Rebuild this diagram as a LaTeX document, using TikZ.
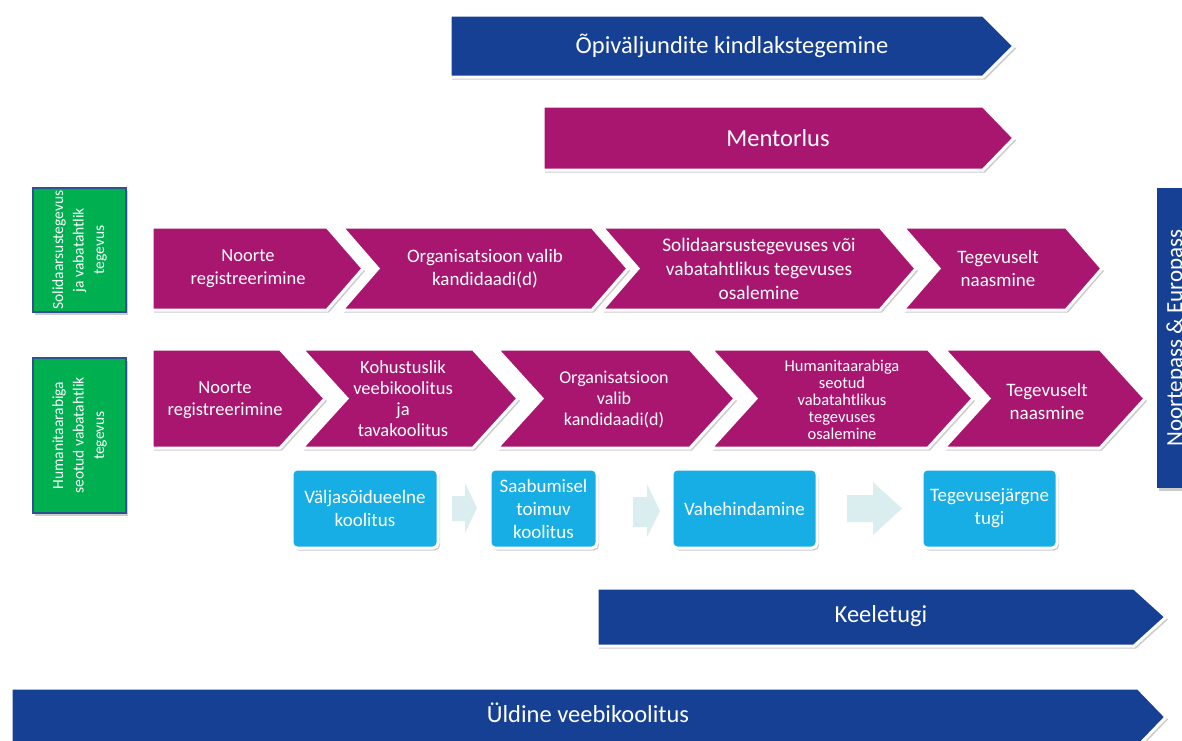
\documentclass[tikz,border=0pt]{standalone}
\usepackage{fontspec}
\setmainfont{Carlito}
\usetikzlibrary{shadows}

\definecolor{navy}{RGB}{22,64,148}
\definecolor{plum}{RGB}{168,22,112}
\definecolor{leaf}{RGB}{0,176,80}
\definecolor{sky}{RGB}{22,174,228}
\definecolor{mist}{RGB}{218,238,240}
\definecolor{rim}{RGB}{47,82,143}

\begin{document}
\begin{tikzpicture}[x=1pt,y=-1pt,
  band/.style={draw=white, line width=3pt, drop shadow={shadow xshift=2pt, shadow yshift=-2.5pt, fill=black, opacity=0.2}},
  navyband/.style={band, fill=navy},
  plumband/.style={band, fill=plum},
  lbl/.style={text=white, align=center, inner sep=0pt},
  big/.style={lbl, font=\fontsize{24.5}{29}\selectfont},
  mid/.style={lbl, font=\fontsize{18.5}{22.5}\selectfont},
  skybox/.style={band, fill=sky, rounded corners=5pt, minimum height=79pt, text=white, align=center, font=\fontsize{19}{23}\selectfont},
  leafbox/.style={fill=leaf, draw=rim, line width=1.2pt, rotate=90, minimum height=93pt, inner sep=0pt, text=white, align=center, font=\fontsize{15.5}{20.5}\selectfont, drop shadow={shadow xshift=2pt, shadow yshift=-2.5pt, fill=black, opacity=0.2}}]
\useasboundingbox (0,0) rectangle (1182,740);
\fill[white] (0,0) rectangle (1182,740);

% long bands on top
\draw[navyband] (450,15)--(983,15)--(1014,46)--(983,77)--(450,77)--cycle;
\node[big] (learn) at (732,46) {Õpiväljundite kindlakstegemine};
\draw[plumband] (543,106)--(983,106)--(1014,138)--(983,170)--(543,170)--cycle;
\node[big] (mentor) at (778,138) {Mentorlus};

% row labels
\node[leafbox, minimum width=124pt] (solid) at (79.5,250) {Solidaarsustegevus\\ja vabatahtlik\\tegevus};
\node[leafbox, minimum width=155pt] (human) at (79.5,435.5) {Humanitaarabiga\\seotud vabatahtlik\\tegevus};

% right bar
\node[fill=navy, rotate=90, minimum width=300pt, minimum height=38pt, text=white, font=\fontsize{23}{27}\selectfont, drop shadow={shadow xshift=2pt, shadow yshift=-2.5pt, fill=black, opacity=0.2}] (pass) at (1176,338) {Noortepass \& Europass};

% first row
\draw[plumband] (152,227)--(327,227)--(363,268.5)--(327,310)--(152,310)--cycle;
\node[mid] (a1) at (248,268.5) {Noorte\\registreerimine};
\draw[plumband] (342,227)--(592,227)--(628,268.5)--(592,310)--(342,310)--(378,268.5)--cycle;
\node[mid, font=\fontsize{19}{23}\selectfont] (a2) at (485,268.5) {Organisatsioon valib\\kandidaadi(d)};
\draw[plumband] (602,227)--(880,227)--(916,268.5)--(880,310)--(602,310)--(638,268.5)--cycle;
\node[mid, font=\fontsize{19.3}{24}\selectfont] (a3) at (759,268.5) {Solidaarsustegevuses või\\vabatahtlikus tegevuses\\osalemine};
\draw[plumband] (903,227)--(1066,227)--(1102,268.5)--(1066,310)--(903,310)--(939,268.5)--cycle;
\node[mid, font=\fontsize{19}{23}\selectfont] (a4) at (998,268.5) {Tegevuselt\\naasmine};

% second row
\draw[plumband] (152,349)--(280,349)--(325,398.5)--(280,448)--(152,448)--cycle;
\node[mid] (b1) at (225,400) {Noorte\\registreerimine};
\draw[plumband] (302,349)--(473,349)--(518,398.5)--(473,448)--(302,448)--(347,398.5)--cycle;
\node[mid, font=\fontsize{18.5}{21}\selectfont] (b2) at (403,399) {Kohustuslik\\veebikoolitus\\ja\\tavakoolitus};
\draw[plumband] (497,349)--(690,349)--(735,398.5)--(690,448)--(497,448)--(542,398.5)--cycle;
\node[mid, font=\fontsize{18}{21}\selectfont] (b3) at (614,400) {Organisatsioon\\valib\\kandidaadi(d)};
\draw[plumband] (711,349)--(928,349)--(973,398.5)--(928,448)--(711,448)--(756,398.5)--cycle;
\node[mid, font=\fontsize{16.5}{17}\selectfont] (b4) at (842,400) {Humanitaarabiga\\seotud\\vabatahtlikus\\tegevuses\\osalemine};
\draw[plumband] (944,349)--(1100,349)--(1145,398.5)--(1100,448)--(944,448)--(989,398.5)--cycle;
\node[mid, font=\fontsize{19}{23}\selectfont] (b5) at (1047,401) {Tegevuselt\\naasmine};

% support steps
\node[skybox, minimum width=146pt] (c1) at (365,508.5) {Väljasõidueelne\\koolitus};
\node[skybox, minimum width=107pt] (c2) at (543.5,508.5) {Saabumisel\\toimuv\\koolitus};
\node[skybox, minimum width=145pt] (c3) at (744.5,508.5) {Vahehindamine};
\node[skybox, minimum width=135pt] (c4) at (989.5,508.5) {Tegevusejärgne\\tugi};
\fill[mist] (452,496)--(465,496)--(465,483)--(477,508)--(465,533)--(465,521)--(452,521)--cycle;
\fill[mist] (633,497)--(647,497)--(647,484)--(660,511)--(647,537)--(647,527)--(633,527)--cycle;
\fill[mist] (847,495)--(873,495)--(873,482)--(902,508.5)--(873,535)--(873,522)--(847,522)--cycle;

% long bands at the bottom
\draw[navyband] (597,588)--(1134,588)--(1166,617)--(1134,646)--(597,646)--cycle;
\node[big] (lang) at (881,616) {Keeletugi};
\draw[navyband] (11,688)--(1138,688)--(1166,717)--(1138,746)--(11,746)--cycle;
\node[big] (web) at (588,713) {Üldine veebikoolitus};
\end{tikzpicture}
\end{document}
